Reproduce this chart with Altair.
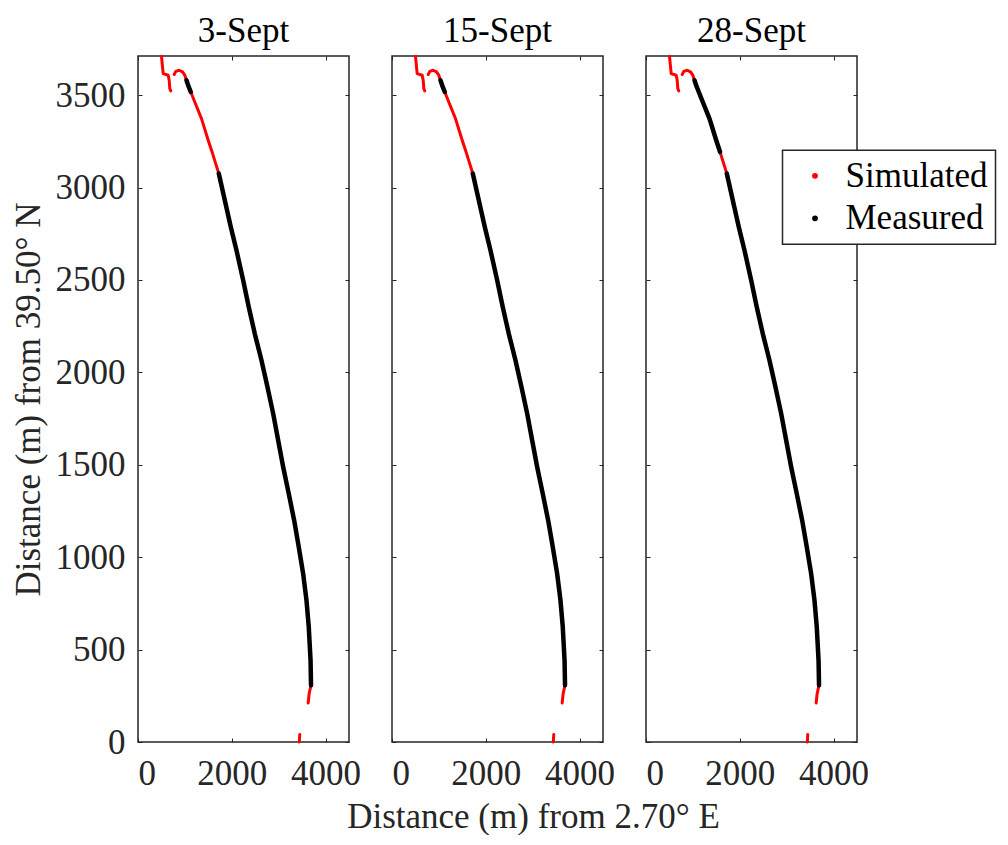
import altair as alt
import pandas as pd

panels = ["3-Sept", "15-Sept", "28-Sept"]

# coastline (m east of 2.70 E, m north of 39.50 N)
seg_a_x = [501, 537, 644, 665, 678, 699]
seg_a_y = [3710, 3617, 3608, 3581, 3536, 3523]

seg_b_x = [772, 806, 878, 949, 998, 1034, 1070, 1126, 1211, 1354, 1497, 1580,
           1612, 1723, 1851, 1979, 2100, 2243, 2362, 2490, 2633, 2761, 2883,
           2989, 3096, 3215, 3330, 3429, 3522, 3593, 3642, 3680, 3690, 3650, 3629]
seg_b_y = [3612, 3629, 3635, 3626, 3608, 3581, 3553, 3517, 3463, 3373, 3256, 3193,
           3166, 3076, 2931, 2787, 2661, 2498, 2354, 2210, 2066, 1921, 1777,
           1633, 1488, 1344, 1200, 1055, 911, 767, 622, 442, 307, 262, 211]

seg_c_x = [3450, 3440]
seg_c_y = [40, 0]

# index spans of seg B covered by measurements, per date
measured_spans = {
    "3-Sept": [(5, 7), (13, 32)],
    "15-Sept": [(5, 7), (13, 32)],
    "28-Sept": [(5, 11), (13, 32)],
}

x_ticks = [0, 2000, 4000]
y_ticks = [0, 500, 1000, 1500, 2000, 2500, 3000, 3500]

rows = []
for p in panels:
    for name, xs, ys in (("A", seg_a_x, seg_a_y), ("B", seg_b_x, seg_b_y), ("C", seg_c_x, seg_c_y)):
        for i, (xv, yv) in enumerate(zip(xs, ys)):
            rows.append(dict(panel=p, series="Simulated", seg=name, idx=i, x=xv, y=yv))
    for a, b in measured_spans[p]:
        for i in range(a, b + 1):
            rows.append(dict(panel=p, series="Measured", seg=f"M{a}", idx=i,
                             x=seg_b_x[i], y=seg_b_y[i]))
df = pd.DataFrame(rows)

FONT = "Liberation Serif"
FS = 35
TICK = 4
xs = alt.Scale(domain=[0, 4500], nice=False, zero=False)
ys = alt.Scale(domain=[0, 3712], nice=False, zero=False)
color = alt.Color(
    "series:N",
    scale=alt.Scale(domain=["Simulated", "Measured"], range=["#ff0000", "#000000"]),
    legend=alt.Legend(
        title=None, orient="none", legendX=644.5, legendY=94.3,
        fillColor="white", strokeColor="#262626",
        padding=8, symbolType="circle", symbolSize=8, symbolStrokeWidth=3,
        symbolOffset=7, labelOffset=13, rowPadding=6.5,
        labelFont=FONT, labelFontSize=FS, labelColor="black",
    ),
)


def panel(p, first, middle):
    d = df[df.panel == p]
    x_axis = alt.Axis(values=x_ticks, format="d", offset=-TICK, tickSize=TICK,
                      labelPadding=14, title=None)
    if middle:
        x_axis = alt.Axis(values=x_ticks, format="d", offset=-TICK, tickSize=TICK,
                          labelPadding=14, title="Distance (m) from 2.70° E",
                          titleX=141, titleY=89, titleBaseline="alphabetic",
                          titleAnchor="middle")
    if first:
        y_axis = alt.Axis(values=y_ticks, format="d", offset=-TICK, tickSize=TICK,
                          labelPadding=13, title="Distance (m) from 39.50° N",
                          titlePadding=9)
    else:
        y_axis = alt.Axis(values=y_ticks, offset=-TICK, tickSize=TICK, minExtent=0,
                          labels=False, title=None)
    sim = alt.Chart(d).transform_filter(alt.datum.series == "Simulated").mark_line(
        strokeWidth=3, strokeCap="round", strokeJoin="round"
    ).encode(
        x=alt.X("x:Q", scale=xs, axis=x_axis),
        y=alt.Y("y:Q", scale=ys, axis=y_axis),
        color=color, detail="seg:N", order="idx:Q",
    )
    meas = alt.Chart(d).transform_filter(alt.datum.series == "Measured").mark_line(
        strokeWidth=4.5, strokeCap="round", strokeJoin="round"
    ).encode(
        x=alt.X("x:Q", scale=xs, axis=alt.Axis(orient="top", values=x_ticks, offset=-TICK,
                                                 tickSize=TICK, labels=False, title=None,
                                                 minExtent=0)),
        y=alt.Y("y:Q", scale=ys, axis=alt.Axis(orient="right", values=y_ticks, offset=-TICK,
                                                 tickSize=TICK, labels=False, title=None,
                                                 minExtent=0)),
        color=color, detail="seg:N", order="idx:Q",
    )
    return alt.layer(sim, meas).resolve_axis(x="independent", y="independent").properties(
        width=211, height=686,
        title=alt.TitleParams(text=p, font=FONT, fontSize=FS, fontWeight="normal",
                              offset=6, color="black"),
    )


chart = alt.hconcat(
    panel("3-Sept", True, False),
    panel("15-Sept", False, True),
    panel("28-Sept", False, False),
    spacing=43, bounds="flush",
).resolve_scale(color="shared").resolve_legend(color="shared").configure_view(
    stroke="#262626", strokeWidth=1.5
).configure_axis(
    grid=False, domain=False, tickColor="#262626", tickWidth=1,
    labelFont=FONT, labelFontSize=FS, labelColor="#262626",
    titleFont=FONT, titleFontSize=FS, titleFontWeight="normal", titleColor="#262626",
).configure_legend(strokeWidth=1.5).properties(
    padding={"left": 2, "top": 5, "right": 0, "bottom": 0}
)

chart.save("out.html", embed_options={"renderer": "svg", "actions": False})
